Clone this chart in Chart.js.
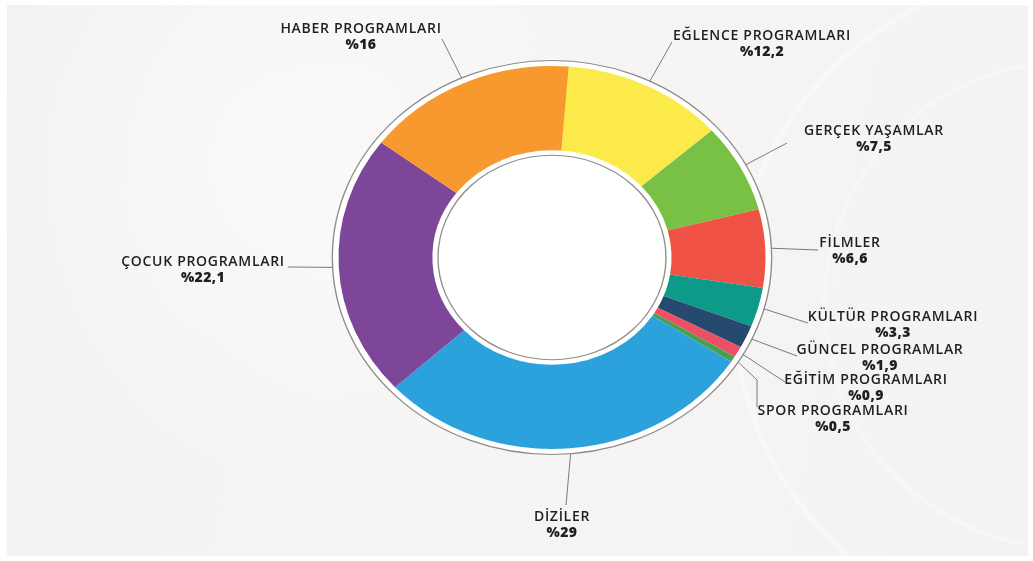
<!DOCTYPE html>
<html lang="tr">
<head>
<meta charset="utf-8">
<title>Program türleri</title>
<script src="https://cdn.jsdelivr.net/npm/chart.js@4.4.1/dist/chart.umd.min.js"></script>
<style>
    html, body {
        margin: 0;
        padding: 0;
        background: #ffffff;
    }
    #bg {
        position: absolute;
        left: 7px;
        top: 5px;
        width: 1021px;
        height: 551px;
        background:
            radial-gradient(circle at 1060px 300px, transparent 0 330px, rgba(255,255,255,0.35) 331px 335px, transparent 336px),
            radial-gradient(circle at 1060px 300px, transparent 0 240px, rgba(255,255,255,0.3) 241px 244px, transparent 245px),
            radial-gradient(circle at 300px 160px, #fbfaf9 0, rgba(251,250,249,0) 320px),
            linear-gradient(100deg, #f3f2f0 0%, #f6f5f3 45%, #f4f3f1 100%);
    }
    #wrap {
        position: absolute;
        left: 0;
        top: 0;
        width: 1033px;
        height: 561px;
    }
</style>
</head>
<body>
<div id="bg"></div>
<div id="wrap"><canvas id="programChart" width="1033" height="561"></canvas></div>
<script>
// clockwise from the top
const categories = ['EĞLENCE PROGRAMLARI', 'GERÇEK YAŞAMLAR', 'FİLMLER', 'KÜLTÜR PROGRAMLARI', 'GÜNCEL PROGRAMLAR',
    'EĞİTİM PROGRAMLARI', 'SPOR PROGRAMLARI', 'DİZİLER', 'ÇOCUK PROGRAMLARI', 'HABER PROGRAMLARI'];
const shares = [12.2, 7.5, 6.6, 3.3, 1.9, 0.9, 0.5, 29, 22.1, 16];
const sliceColors = ['#fcea4b', '#78c144', '#f05246', '#0e9a88', '#254a6e', '#ee4f64', '#4a9e52', '#2ca2dc', '#7e4699', '#f7992e'];

// label placement: text centre x, name line y, end of leader line, optional bend
const labelX = [762, 874, 850, 893, 880, 866, 833, 562, 203, 361];
const labelY = [36, 131, 243, 317, 350, 380, 411, 517, 262, 29];
const lineEnds = [[672, 42], [787, 143], [818, 250], [808, 323], [797, 356], [785, 382], [757, 407], [566, 505], [288, 267], [442, 39]];
const lineBends = [null, null, null, null, null, null, [757, 380], null, null, null];

const stretch = 1.115;

function pctText(v) {
    return '%' + String(v).replace('.', ',');
}

const ringPlugin = {
    id: 'ringPlugin',
    beforeDatasetsDraw(chart) {
        const ctx = chart.ctx;
        const arc = chart.getDatasetMeta(0).data[0];
        ctx.save();
        ctx.translate(arc.x, arc.y);
        ctx.scale(stretch, 1);

        ctx.beginPath();
        ctx.arc(0, 0, arc.outerRadius + 5, 0, Math.PI * 2);
        ctx.fillStyle = 'rgba(255,255,255,0.92)';
        ctx.fill();

        ctx.lineWidth = 1.2;
        ctx.strokeStyle = '#8c8c8c';
        ctx.beginPath();
        ctx.arc(0, 0, arc.outerRadius + 5.5, 0, Math.PI * 2);
        ctx.stroke();
        ctx.beginPath();
        ctx.arc(0, 0, arc.innerRadius - 5, 0, Math.PI * 2);
        ctx.stroke();

        ctx.translate(-arc.x, -arc.y);
    },
    afterDatasetsDraw(chart) {
        chart.ctx.restore();
    },
    afterDraw(chart) {
        const ctx = chart.ctx;
        const arcs = chart.getDatasetMeta(0).data;
        ctx.save();
        ctx.strokeStyle = '#7a7a7a';
        ctx.lineWidth = 1;
        arcs.forEach(function (arc, i) {
            const mid = (arc.startAngle + arc.endAngle) / 2;
            const r = arc.outerRadius + 5.5;
            const sx = arc.x + Math.cos(mid) * r * stretch;
            const sy = arc.y + Math.sin(mid) * r;
            ctx.beginPath();
            ctx.moveTo(sx, sy);
            if (lineBends[i]) {
                ctx.lineTo(lineBends[i][0], lineBends[i][1]);
            }
            ctx.lineTo(lineEnds[i][0], lineEnds[i][1]);
            ctx.stroke();

            ctx.textAlign = 'center';
            ctx.textBaseline = 'middle';
            ctx.fillStyle = '#1f1f1f';
            ctx.letterSpacing = '0.7px';
            ctx.font = '600 14px "Open Sans"';
            ctx.fillText(categories[i], labelX[i], labelY[i]);
            ctx.letterSpacing = '0.4px';
            ctx.font = '800 14px "Open Sans"';
            ctx.fillText(pctText(shares[i]), labelX[i], labelY[i] + 16);
        });
        ctx.restore();
    }
};

document.addEventListener('DOMContentLoaded', function () {
    const ctx = document.getElementById('programChart').getContext('2d');
    const programChart = new Chart(ctx, {
        type: 'doughnut',
        data: {
            labels: categories,
            datasets: [{
                data: shares,
                backgroundColor: sliceColors,
                borderWidth: 0,
                clip: false
            }]
        },
        options: {
            responsive: false,
            animation: false,
            events: [],
            rotation: 4.5,
            cutout: '56%',
            layout: {
                padding: { top: 66, bottom: 112, left: 300, right: 229 }
            },
            plugins: {
                legend: { display: false },
                tooltip: { enabled: false }
            }
        },
        plugins: [ringPlugin]
    });
});
</script>
</body>
</html>
